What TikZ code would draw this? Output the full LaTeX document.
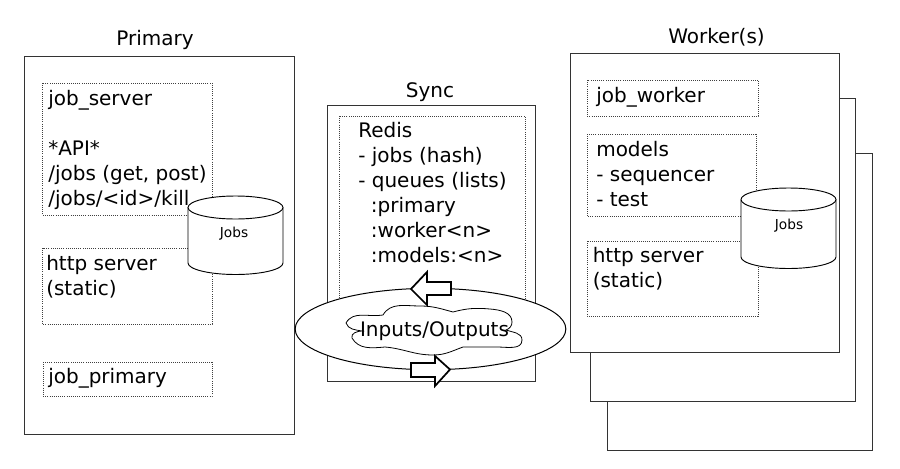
\documentclass[tikz,border=0pt]{standalone}
\usepackage{fontspec}
\setmainfont{DejaVu Sans}
\usetikzlibrary{shapes.geometric}
\definecolor{edge}{gray}{0.2}
\tikzset{
  x=0.75pt,y=-0.75pt,
  solidbox/.style={draw=edge,fill=white,line width=0.75pt},
  dotbox/.style={draw=black!75,densely dotted,line width=0.6pt},
  lbl/.style={inner sep=0pt,anchor=north west,align=left,font=\fontsize{15}{18.75}\selectfont},
  ttl/.style={inner sep=0pt,anchor=base,font=\fontsize{15}{18}\selectfont},
  fat/.style={draw=black,fill=white,line width=1.3pt,line join=miter},
  can/.style={draw=black,fill=white,line width=0.7pt},
}
\newcommand{\cyl}[7]{% name, left, right, ellipse cy, side bottom, text x, text y
  \pgfmathsetmacro{\rxx}{(#3-#2)/2*0.75}
  \pgfmathsetmacro{\ryy}{11.5*0.75}
  \path[can] (#2,#4) -- (#2,#5) arc[start angle=180,end angle=360,x radius=\rxx pt,y radius=\ryy pt] -- (#3,#4);
  \path[can] ({(#2+#3)/2},#4) ellipse[x radius=\rxx pt,y radius=\ryy pt];
  \node[inner sep=0pt,font=\fontsize{10.3}{12}\selectfont] (#1) at (#6,#7) {Jobs};
}
\begin{document}
\begin{tikzpicture}
\useasboundingbox (0,0) rectangle (900,468);
\fill[white] (0,0) rectangle (900,468);
% Primary
\draw[solidbox] (24,56) rectangle (294,434);
\node[ttl] (tprimary) at (155,45) {Primary};
\draw[dotbox] (42.5,83) rectangle (212,215);
\node[lbl] (jobserver) at (48,90) {job\_server\\[18.75pt]*API*\\/jobs (get, post)\\/jobs/<id>/kill};
\draw[dotbox] (42.5,248) rectangle (212,324);
\node[lbl] (httpa) at (46,255) {http server\\(static)};
\draw[dotbox] (43,362) rectangle (212,396);
\node[lbl] (jobprimary) at (48,368) {job\_primary};
\cyl{jobsa}{188}{283}{207.5}{263}{234}{233.5}
% Sync
\node[ttl] (tsync) at (430,97) {Sync};
\draw[solidbox] (327,105) rectangle (535,381);
\draw[dotbox] (339,116) rectangle (525,300);
\node[lbl] (redis) at (358,122) {Redis\\- jobs (hash)\\- queues (lists)\\\hspace*{9.5pt}:primary\\\hspace*{9.5pt}:worker<n>\\\hspace*{9.5pt}:models:<n>};
\draw[solidbox,draw=black] (430.5,329) ellipse[x radius=101.5pt,y radius=30.5pt];
\draw[draw=black,fill=white,line width=0.6pt]
  (346,323) to[out=60,in=190] (383,315) to[out=60,in=180] (420,306)
  to[out=0,in=165] (453,312) to[out=15,in=175] (490,309)
  to[out=-5,in=90] (512,322) to[out=-90,in=20] (506,330)
  to[out=-20,in=90] (522,340) to[out=-90,in=0] (497,347)
  to[out=180,in=0] (463,347) to[out=-160,in=0] (433,355)
  to[out=180,in=-5] (385,347) to[out=185,in=-60] (352,338)
  to[out=110,in=180] (362,331) to[out=170,in=-70] cycle;
\node[inner sep=0pt,font=\fontsize{15}{18}\selectfont] (io) at (434.5,331) {Inputs/Outputs};
\path[fat] (451,282) -- (427,282) -- (427,272) -- (411,289) -- (427,305) -- (427,295) -- (451,295) -- cycle;
\path[fat] (411,363) -- (435,363) -- (435,356) -- (450,369.5) -- (435,386) -- (435,377) -- (411,377) -- cycle;
% Workers
\draw[solidbox] (607,153) rectangle (872.5,450);
\draw[solidbox] (590,98) rectangle (855,401);
\draw[solidbox] (570,53) rectangle (839,352);
\node[ttl] (tworker) at (716.5,43) {Worker(s)};
\draw[dotbox] (587,80) rectangle (758,116);
\node[lbl] (jobworker) at (596,87) {job\_worker};
\draw[dotbox] (587,134) rectangle (756,216);
\node[lbl] (models) at (596,141) {models\\- sequencer\\- test};
\draw[dotbox] (587,241) rectangle (758,316);
\node[lbl] (httpb) at (592.5,247) {http server\\(static)};
\cyl{jobsb}{741}{836}{199.5}{257}{789}{226}
\end{tikzpicture}
\end{document}
